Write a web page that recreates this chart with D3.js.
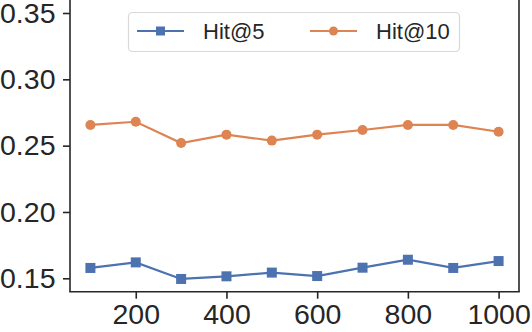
<!DOCTYPE html>
<html><head><meta charset="utf-8">
<script src="https://cdn.jsdelivr.net/npm/d3@7"></script>
<style>
html,body{margin:0;padding:0;background:#fff;}
svg{display:block;font-family:"Liberation Sans",Arial,sans-serif;}
</style></head>
<body>
<svg id="chart" width="532" height="332"></svg>
<script>
const xValues = [100, 200, 300, 400, 500, 600, 700, 800, 900, 1000];
const hit5 = [0.1578, 0.162, 0.1495, 0.1515, 0.1543, 0.1517, 0.158, 0.164, 0.1578, 0.163];
const hit10 = [0.2656, 0.268, 0.252, 0.2583, 0.2538, 0.2583, 0.2618, 0.2656, 0.2656, 0.2605];
const seriesNames = ["Hit@5", "Hit@10"];
const xTicks = [200, 400, 600, 800, 1000];
const yTicks = [0.15, 0.20, 0.25, 0.30, 0.35];

(function () {
const colors = ["#4C72B0", "#DD8452"];
const svg = d3.select("#chart");
const pl = 70, pr = 519, pt = 0, pb = 291.7;

const x = d3.scaleLinear().domain([55, 1045]).range([pl, pr]);
const y = d3.scaleLinear().domain([0.1399, 0.3598]).range([pb, pt]);

const yAxis = d3.axisLeft(y).tickValues(yTicks).tickFormat(d3.format(".2f")).tickSize(7).tickPadding(7.5);
const xAxis = d3.axisBottom(x).tickValues(xTicks).tickFormat(d3.format("d")).tickSize(7).tickPadding(5.5);

const gy = svg.append("g").attr("transform", `translate(${pl},0)`).call(yAxis);
const gx = svg.append("g").attr("transform", `translate(0,${pb})`).call(xAxis);
[gx, gy].forEach(g => {
  g.select(".domain").remove();
  g.selectAll(".tick line").attr("stroke", "#262626").attr("stroke-width", 1.6);
  g.selectAll(".tick text").attr("fill", "#262626").style("font-size", "28.5px");
});

svg.append("line").attr("x1", pl).attr("x2", pl).attr("y1", pt).attr("y2", pb).attr("stroke", "#262626").attr("stroke-width", 1.6);
svg.append("line").attr("x1", pr).attr("x2", pr).attr("y1", pt).attr("y2", pb).attr("stroke", "#262626").attr("stroke-width", 1.6);
svg.append("line").attr("x1", pl - 0.8).attr("x2", pr + 0.8).attr("y1", pb).attr("y2", pb).attr("stroke", "#262626").attr("stroke-width", 1.6);

const series = [hit5, hit10];
const line = d3.line().x((d, i) => x(xValues[i])).y(d => y(d));

series.forEach((vals, si) => {
  svg.append("path").datum(vals).attr("d", line).attr("fill", "none")
    .attr("stroke", colors[si]).attr("stroke-width", 2.2);
  const g = svg.append("g");
  if (si === 0) {
    g.selectAll("rect").data(vals).enter().append("rect")
      .attr("x", (d, i) => x(xValues[i]) - 5).attr("y", d => y(d) - 5)
      .attr("width", 10).attr("height", 10).attr("fill", colors[si]);
  } else {
    g.selectAll("circle").data(vals).enter().append("circle")
      .attr("cx", (d, i) => x(xValues[i])).attr("cy", d => y(d))
      .attr("r", 5).attr("fill", colors[si]);
  }
});

const lg = svg.append("g");
lg.append("rect").attr("x", 128.5).attr("y", 12.5).attr("width", 331).attr("height", 39)
  .attr("rx", 4).attr("fill", "#fff").attr("stroke", "#d9d9d9").attr("stroke-width", 1.2);
const legendItems = [
  {lx1: 137, lx2: 184, tx: 203},
  {lx1: 310, lx2: 357, tx: 376}
];
legendItems.forEach((it, i) => {
  const cy = 31;
  lg.append("line").attr("x1", it.lx1).attr("x2", it.lx2).attr("y1", cy).attr("y2", cy)
    .attr("stroke", colors[i]).attr("stroke-width", 2.2);
  const mx = (it.lx1 + it.lx2) / 2;
  if (i === 0) lg.append("rect").attr("x", mx - 4.5).attr("y", cy - 4.5).attr("width", 9).attr("height", 9).attr("fill", colors[i]);
  else lg.append("circle").attr("cx", mx).attr("cy", cy).attr("r", 4.5).attr("fill", colors[i]);
  lg.append("text").attr("x", it.tx).attr("y", cy + 8).attr("fill", "#262626")
    .style("font-size", "22px").text(seriesNames[i]);
});
})();
</script>
</body></html>
